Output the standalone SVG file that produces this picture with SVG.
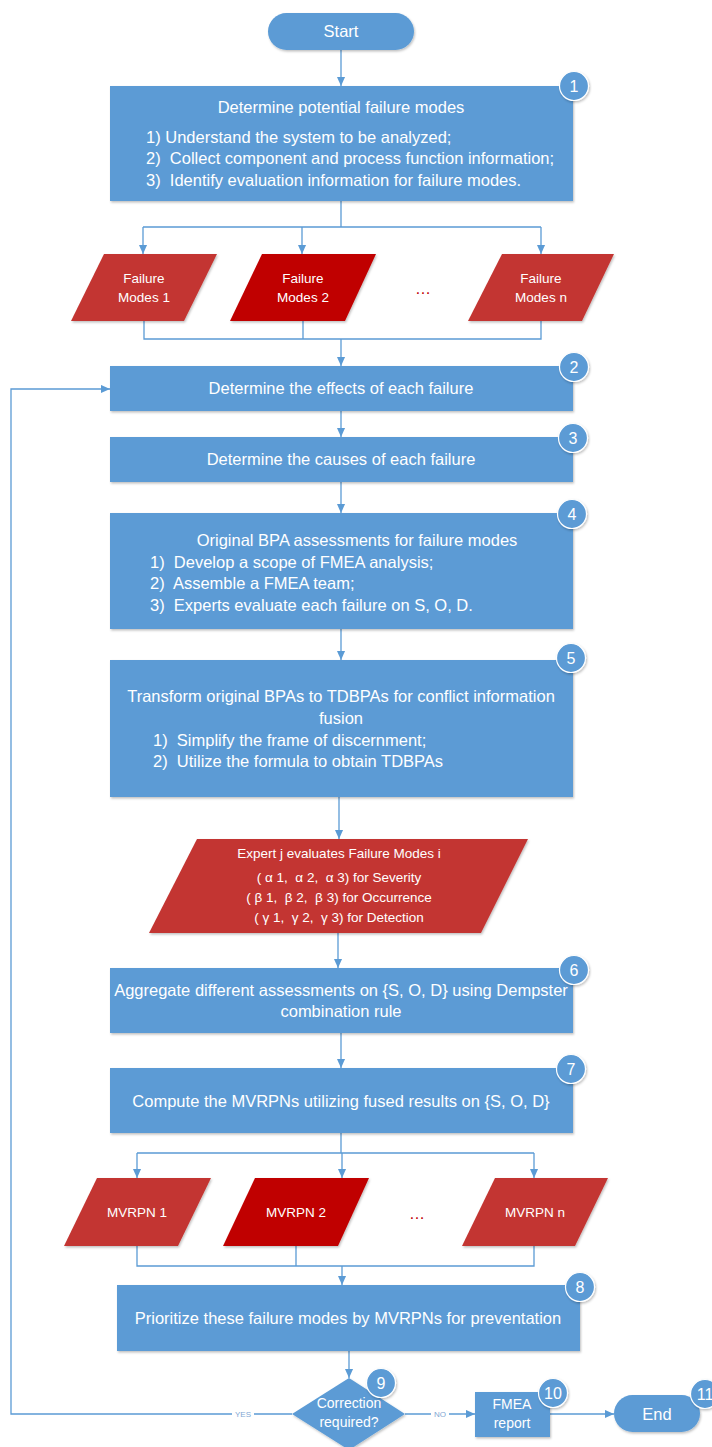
<svg xmlns="http://www.w3.org/2000/svg" width="712" height="1447" viewBox="0 0 712 1447">
<style>
  .box{fill:#5B9BD5;filter:url(#sh)}
  .red{fill:#C33632;filter:url(#sh)}
  .dred{fill:#C00000;filter:url(#sh)}
  text{white-space:pre}
  .t{font-family:"Liberation Sans",Arial,sans-serif;font-size:16.5px;fill:#FFFFFF}
  .ts{font-family:"Liberation Sans",Arial,sans-serif;font-size:13.5px;fill:#FFFFFF}
  .mid{text-anchor:middle}
  .badge{fill:#5B9BD5;stroke:#FFFFFF;stroke-width:1.2;filter:url(#sh)}
  .bn{font-family:"Liberation Sans",Arial,sans-serif;font-size:16px;fill:#FFFFFF;text-anchor:middle}
  .c{fill:none;stroke:#5B9BD5;stroke-width:1.3}
  .ca{fill:none;stroke:#5B9BD5;stroke-width:1.3;marker-end:url(#ah)}
  .dots{font-family:"Liberation Sans",Arial,sans-serif;font-size:16px;fill:#C00000;text-anchor:middle}
  .lbl{font-family:"Liberation Sans",Arial,sans-serif;font-size:8px;fill:#7FA7D3;text-anchor:middle}
</style>
<defs>
  <filter id="sh" x="-10%" y="-10%" width="120%" height="130%">
    <feDropShadow dx="1" dy="1.5" stdDeviation="1" flood-color="#000000" flood-opacity="0.25"/>
  </filter>
  <marker id="ah" viewBox="0 0 10 10" refX="10" refY="5" markerWidth="9" markerHeight="9" markerUnits="userSpaceOnUse" orient="auto">
    <path d="M0,0.5 L10,5 L0,9.5 z" fill="#5B9BD5"/>
  </marker>
</defs>

<g id="connectors">
  <path class="ca" d="M341,50 V86"/>
  <path class="c" d="M341,201 V227 M143,227 H541"/>
  <path class="ca" d="M143,227 V254"/>
  <path class="ca" d="M302,227 V254"/>
  <path class="ca" d="M541,227 V254"/>
  <path class="c" d="M144,321 V339 H541 V321 M303,321 V339"/>
  <path class="ca" d="M341,339 V366"/>
  <path class="ca" d="M341,411 V437"/>
  <path class="ca" d="M341,482 V513"/>
  <path class="ca" d="M341,629 V660"/>
  <path class="ca" d="M339,797 V839"/>
  <path class="ca" d="M338,933 V968"/>
  <path class="ca" d="M341,1033 V1068"/>
  <path class="c" d="M341,1133 V1153 M137,1153 H534"/>
  <path class="ca" d="M137,1153 V1178"/>
  <path class="ca" d="M342,1153 V1178"/>
  <path class="ca" d="M534,1153 V1178"/>
  <path class="c" d="M137,1246 V1266 H534 V1246 M296,1246 V1266"/>
  <path class="ca" d="M342,1266 V1285"/>
  <path class="ca" d="M349,1351 V1378"/>
  <path class="ca" d="M292,1414 H11 V389 H110"/>
  <path class="ca" d="M405,1414 H475"/>
  <path class="ca" d="M550,1414 H614"/>
  <rect x="232" y="1410" width="22" height="8" fill="#FFFFFF"/>
  <text class="lbl" x="243" y="1417">YES</text>
  <rect x="431" y="1410" width="18" height="8" fill="#FFFFFF"/>
  <text class="lbl" x="440" y="1417">NO</text>
</g>

<g id="start">
  <rect class="box" x="268" y="13" width="146" height="37" rx="18.5"/>
  <text class="t mid" x="341" y="37">Start</text>
</g>

<g id="step1">
  <rect class="box" x="110" y="86" width="463" height="115"/>
  <text class="t mid" x="341" y="113">Determine potential failure modes</text>
  <text class="t" x="146" y="143">1) Understand the system to be analyzed;</text>
  <text class="t" x="146" y="164">2)  Collect component and process function information;</text>
  <text class="t" x="146" y="186">3)  Identify evaluation information for failure modes.</text>
  <circle class="badge" cx="574" cy="86" r="14.5"/>
  <text class="bn" x="574" y="92">1</text>
</g>

<g id="fm1">
  <polygon class="red" points="104,254 217,254 184,321 71,321"/>
  <text class="ts mid" x="144" y="283">Failure</text>
  <text class="ts mid" x="144" y="302">Modes 1</text>
</g>
<g id="fm2">
  <polygon class="dred" points="262,254 376,254 345,321 230,321"/>
  <text class="ts mid" x="303" y="283">Failure</text>
  <text class="ts mid" x="303" y="302">Modes 2</text>
</g>
<g id="fmdots">
  <text class="dots" x="423" y="294">…</text>
</g>
<g id="fmn">
  <polygon class="red" points="502,254 614,254 582,321 468,321"/>
  <text class="ts mid" x="541" y="283">Failure</text>
  <text class="ts mid" x="541" y="302">Modes n</text>
</g>

<g id="step2">
  <rect class="box" x="110" y="366" width="463" height="45"/>
  <text class="t mid" x="341" y="394">Determine the effects of each failure</text>
  <circle class="badge" cx="574" cy="367" r="14.5"/>
  <text class="bn" x="574" y="373">2</text>
</g>

<g id="step3">
  <rect class="box" x="110" y="437" width="463" height="45"/>
  <text class="t mid" x="341" y="465">Determine the causes of each failure</text>
  <circle class="badge" cx="573" cy="438" r="14.5"/>
  <text class="bn" x="573" y="444">3</text>
</g>

<g id="step4">
  <rect class="box" x="110" y="513" width="463" height="116"/>
  <text class="t mid" x="357" y="546">Original BPA assessments for failure modes</text>
  <text class="t" x="150" y="568">1)  Develop a scope of FMEA analysis;</text>
  <text class="t" x="150" y="589">2)  Assemble a FMEA team;</text>
  <text class="t" x="150" y="611">3)  Experts evaluate each failure on S, O, D.</text>
  <circle class="badge" cx="572" cy="514" r="14.5"/>
  <text class="bn" x="572" y="520">4</text>
</g>

<g id="step5">
  <rect class="box" x="110" y="660" width="463" height="137"/>
  <text class="t mid" x="341" y="702">Transform original BPAs to TDBPAs for conflict information</text>
  <text class="t mid" x="341" y="724">fusion</text>
  <text class="t" x="153" y="746">1)  Simplify the frame of discernment;</text>
  <text class="t" x="153" y="767">2)  Utilize the formula to obtain TDBPAs</text>
  <circle class="badge" cx="571" cy="658" r="14.5"/>
  <text class="bn" x="571" y="664">5</text>
</g>

<g id="expert">
  <polygon class="red" points="197,839 528,839 481,933 149,933"/>
  <text class="ts mid" x="339" y="858">Expert j evaluates Failure Modes i</text>
  <text class="ts mid" x="339" y="882">( α 1,  α 2,  α 3) for Severity</text>
  <text class="ts mid" x="339" y="902">( β 1,  β 2,  β 3) for Occurrence</text>
  <text class="ts mid" x="339" y="922">( γ 1,  γ 2,  γ 3) for Detection</text>
</g>

<g id="step6">
  <rect class="box" x="110" y="968" width="463" height="65"/>
  <text class="t mid" x="341" y="996">Aggregate different assessments on {S, O, D} using Dempster</text>
  <text class="t mid" x="341" y="1017">combination rule</text>
  <circle class="badge" cx="574" cy="970" r="14.5"/>
  <text class="bn" x="574" y="976">6</text>
</g>

<g id="step7">
  <rect class="box" x="110" y="1068" width="463" height="65"/>
  <text class="t mid" x="341" y="1107">Compute the MVRPNs utilizing fused results on {S, O, D}</text>
  <circle class="badge" cx="571" cy="1069" r="14.5"/>
  <text class="bn" x="571" y="1075">7</text>
</g>

<g id="mv1">
  <polygon class="red" points="97,1178 211,1178 178,1246 64,1246"/>
  <text class="ts mid" x="137" y="1217">MVRPN 1</text>
</g>
<g id="mv2">
  <polygon class="dred" points="255,1178 369,1178 338,1246 223,1246"/>
  <text class="ts mid" x="296" y="1217">MVRPN 2</text>
</g>
<g id="mvdots">
  <text class="dots" x="417" y="1219">…</text>
</g>
<g id="mvn">
  <polygon class="red" points="495,1178 608,1178 575,1246 462,1246"/>
  <text class="ts mid" x="535" y="1217">MVRPN n</text>
</g>

<g id="step8">
  <rect class="box" x="117" y="1285" width="463" height="66"/>
  <text class="t mid" x="348" y="1324">Prioritize these failure modes by MVRPNs for preventation</text>
  <circle class="badge" cx="580" cy="1287" r="14.5"/>
  <text class="bn" x="580" y="1293">8</text>
</g>

<g id="decision">
  <polygon class="box" points="349,1378 405,1414 349,1450 292,1414"/>
  <text class="ts mid" x="349" y="1408" style="font-size:14px">Correction</text>
  <text class="ts mid" x="349" y="1427" style="font-size:14px">required?</text>
  <circle class="badge" cx="381" cy="1383" r="14.5"/>
  <text class="bn" x="381" y="1389">9</text>
</g>

<g id="report">
  <rect class="box" x="475" y="1392" width="75" height="45"/>
  <text class="ts mid" x="512" y="1409" style="font-size:14px">FMEA</text>
  <text class="ts mid" x="512" y="1428" style="font-size:14px">report</text>
  <circle class="badge" cx="553" cy="1393" r="14.5"/>
  <text class="bn" x="553" y="1399">10</text>
</g>

<g id="end">
  <rect class="box" x="614" y="1395" width="86" height="37" rx="18.5"/>
  <text class="t mid" x="657" y="1420">End</text>
  <circle class="badge" cx="705" cy="1394" r="14.5"/>
  <text class="bn" x="705" y="1400">11</text>
</g>
</svg>
